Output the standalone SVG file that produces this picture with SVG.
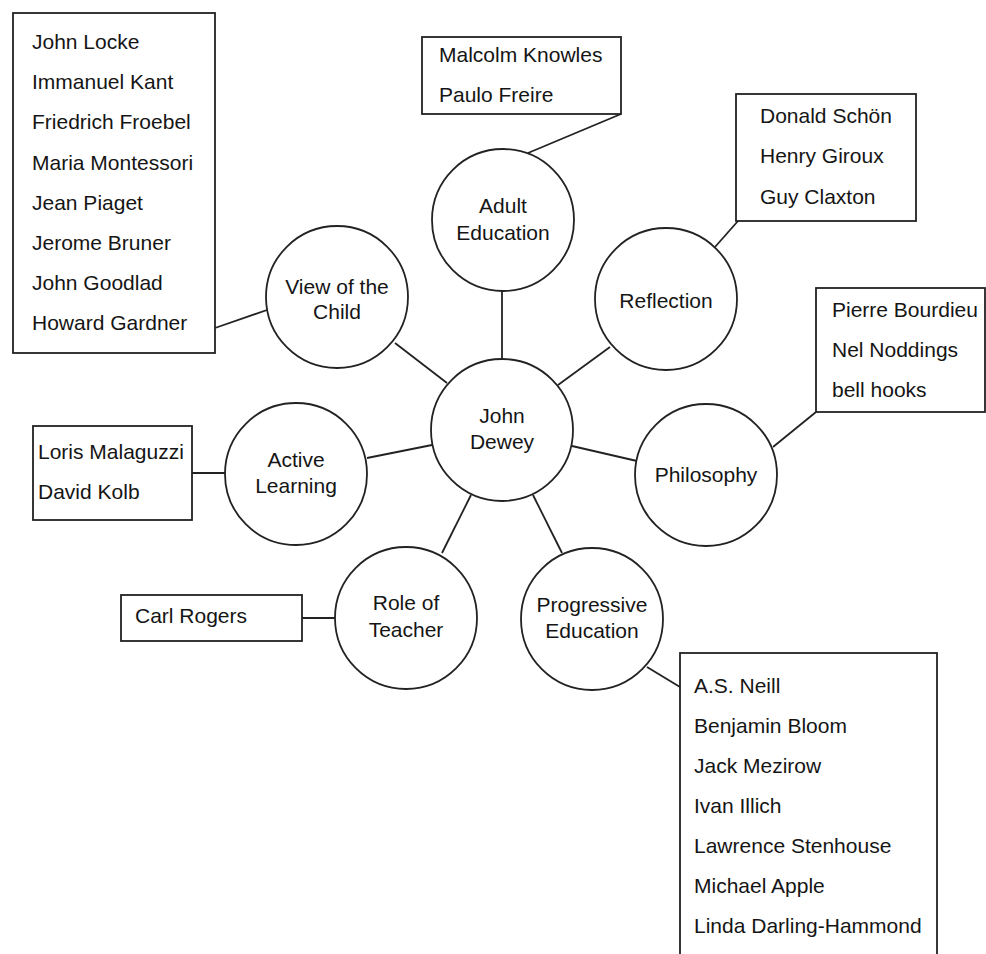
<svg xmlns="http://www.w3.org/2000/svg" width="986" height="954" viewBox="0 0 986 954">
<style>
text{font-family:"Liberation Sans",Arial,sans-serif;font-size:21px;fill:#151515}
.c{text-anchor:middle}
.n circle,.b rect{fill:#fff;stroke:#222;stroke-width:1.8}
#connectors line{stroke:#222;stroke-width:1.8}
</style>
<rect width="986" height="954" fill="#fff"/>
<g id="connectors">
<line x1="502" y1="359" x2="502" y2="291"/>
<line x1="395" y1="343" x2="447" y2="383"/>
<line x1="610" y1="347" x2="558" y2="385"/>
<line x1="572" y1="446" x2="637" y2="461"/>
<line x1="367" y1="458" x2="432" y2="445"/>
<line x1="442" y1="553" x2="471" y2="495"/>
<line x1="533" y1="495" x2="562" y2="553"/>
<line x1="621" y1="114" x2="528" y2="153"/>
<line x1="215" y1="328" x2="267" y2="310"/>
<line x1="738" y1="221" x2="715" y2="247"/>
<line x1="816" y1="412" x2="773" y2="447"/>
<line x1="192" y1="473" x2="225" y2="473"/>
<line x1="302" y1="618" x2="336" y2="618"/>
<line x1="647" y1="667" x2="680" y2="687"/>
</g>
<g id="dewey" class="n"><circle cx="502" cy="430" r="71"/><text class="c" x="502" y="423">John</text><text class="c" x="502" y="449">Dewey</text></g>
<g id="adult" class="n"><circle cx="503" cy="220" r="71"/><text class="c" x="503" y="213">Adult</text><text class="c" x="503" y="240">Education</text></g>
<g id="child" class="n"><circle cx="337" cy="297" r="71"/><text class="c" x="337" y="294">View of the</text><text class="c" x="337" y="319">Child</text></g>
<g id="reflection" class="n"><circle cx="666" cy="299" r="71"/><text class="c" x="666" y="308">Reflection</text></g>
<g id="philosophy" class="n"><circle cx="706" cy="475" r="71"/><text class="c" x="706" y="482">Philosophy</text></g>
<g id="active" class="n"><circle cx="296" cy="474" r="71"/><text class="c" x="296" y="467">Active</text><text class="c" x="296" y="493">Learning</text></g>
<g id="teacher" class="n"><circle cx="406" cy="618" r="71"/><text class="c" x="406" y="610">Role of</text><text class="c" x="406" y="637">Teacher</text></g>
<g id="progressive" class="n"><circle cx="592" cy="619" r="71"/><text class="c" x="592" y="612">Progressive</text><text class="c" x="592" y="638">Education</text></g>
<g id="box-child" class="b"><rect x="13" y="13" width="202" height="340"/>
<text x="32" y="49">John Locke</text><text x="32" y="89">Immanuel Kant</text><text x="32" y="129">Friedrich Froebel</text><text x="32" y="170">Maria Montessori</text><text x="32" y="210">Jean Piaget</text><text x="32" y="250">Jerome Bruner</text><text x="32" y="290">John Goodlad</text><text x="32" y="330">Howard Gardner</text></g>
<g id="box-adult" class="b"><rect x="422" y="37" width="199" height="77"/>
<text x="439" y="62">Malcolm Knowles</text><text x="439" y="102">Paulo Freire</text></g>
<g id="box-reflection" class="b"><rect x="736" y="94" width="180" height="127"/>
<text x="760" y="123">Donald Schön</text><text x="760" y="163">Henry Giroux</text><text x="760" y="204">Guy Claxton</text></g>
<g id="box-philosophy" class="b"><rect x="816" y="288" width="169" height="124"/>
<text x="832" y="317">Pierre Bourdieu</text><text x="832" y="357">Nel Noddings</text><text x="832" y="397">bell hooks</text></g>
<g id="box-active" class="b"><rect x="33" y="426" width="159" height="94"/>
<text x="38" y="459">Loris Malaguzzi</text><text x="38" y="499">David Kolb</text></g>
<g id="box-teacher" class="b"><rect x="121" y="595" width="181" height="46"/>
<text x="135" y="623">Carl Rogers</text></g>
<g id="box-progressive" class="b"><rect x="680" y="653" width="257" height="320"/>
<text x="694" y="693">A.S. Neill</text><text x="694" y="733">Benjamin Bloom</text><text x="694" y="773">Jack Mezirow</text><text x="694" y="813">Ivan Illich</text><text x="694" y="853">Lawrence Stenhouse</text><text x="694" y="893">Michael Apple</text><text x="694" y="933">Linda Darling-Hammond</text></g>
</svg>
